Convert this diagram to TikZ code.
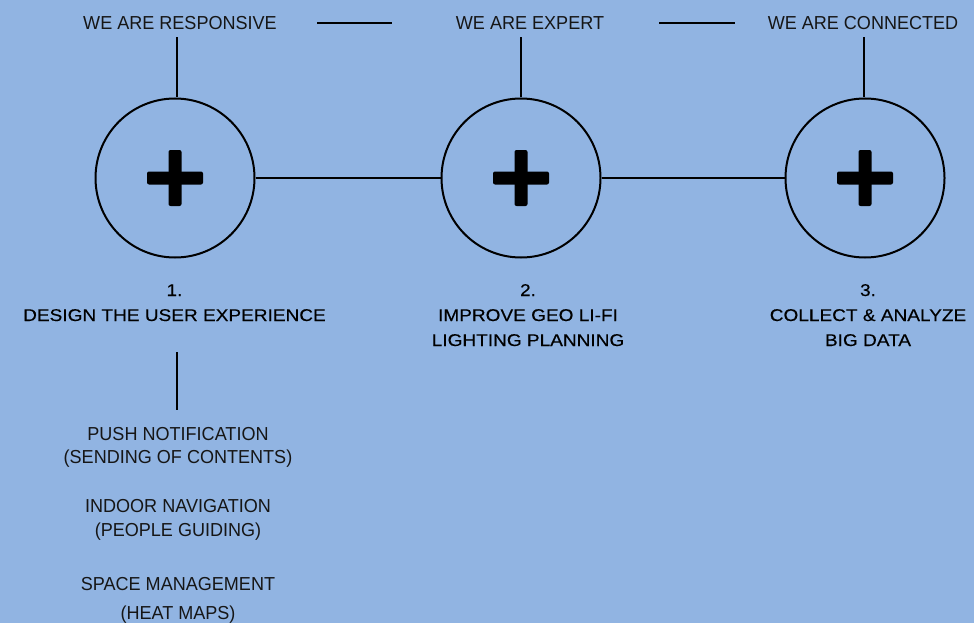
\documentclass[tikz,border=0pt]{standalone}
\usepackage{fontspec}
\setmainfont{Liberation Sans}
\newfontfamily\labelfont{Liberation Sans}[FakeStretch=1.12,FakeBold=0.3]
\newfontfamily\headfont{Liberation Sans}[FakeStretch=0.96]
\definecolor{bg}{RGB}{145,180,226}
\definecolor{ink}{RGB}{22,22,22}
\begin{document}
\begin{tikzpicture}[x=1pt,y=-1pt,
  hub/.style={circle,draw=black,line width=2pt,minimum size=159pt,inner sep=0pt},
  conn/.style={draw=black,line width=2pt},
  head/.style={font=\headfont\fontsize{18.8}{22}\selectfont,text=ink,anchor=base,inner sep=0pt},
  lab/.style={font=\labelfont\fontsize{17}{21}\selectfont,text=black,anchor=base,inner sep=0pt},
  plus/.pic={\fill[black,rounded corners=2pt] (-28,-6.5) rectangle (28,6.5);
             \fill[black,rounded corners=2pt] (-6.5,-28) rectangle (6.5,28);}
]
\fill[bg] (0,0) rectangle (974,623);
\useasboundingbox (0,0) rectangle (974,623);

% headings
\node[head] (t1) at (180,30) {WE ARE RESPONSIVE};
\node[head] (t2) at (530,30) {WE ARE EXPERT};
\node[head] (t3) at (863,30) {WE ARE CONNECTED};

% top dashes
\coordinate (d1a) at (317,23);
\coordinate (d1b) at (392,23);
\coordinate (d2a) at (659,23);
\coordinate (d2b) at (735,23);
\draw[conn] (d1a) -- (d1b);
\draw[conn] (d2a) -- (d2b);

% hubs
\node[hub] (c1) at (175,178) {};
\node[hub] (c2) at (521,178) {};
\node[hub] (c3) at (865,178) {};
\pic at (c1) {plus};
\pic at (c2) {plus};
\pic at (c3) {plus};

\draw[conn] (c1) -- (c2);
\draw[conn] (c2) -- (c3);

\coordinate (v1) at (177,37);
\coordinate (v2) at (521,37);
\coordinate (v3) at (864,37);
\draw[conn] (c1.north -| v1) -- (v1);
\draw[conn] (c2.north) -- (v2);
\draw[conn] (c3.north -| v3) -- (v3);

% step labels
\node[lab] (n1) at (174.5,296) {1.};
\node[lab] (l1) at (174.5,321) {DESIGN THE USER EXPERIENCE};
\node[lab] (n2) at (528,296) {2.};
\node[lab] (l2a) at (528,321) {IMPROVE GEO LI-FI};
\node[lab] (l2b) at (528,346) {LIGHTING PLANNING};
\node[lab] (n3) at (868,296) {3.};
\node[lab] (l3a) at (868,321) {COLLECT \& ANALYZE};
\node[lab] (l3b) at (868,346) {BIG DATA};

% lower stem
\coordinate (s1) at (177,352);
\coordinate (s2) at (177,410);
\draw[conn] (s1) -- (s2);

% list
\node[head] (p1) at (178,440) {PUSH NOTIFICATION};
\node[head] (p2) at (178,463) {(SENDING OF CONTENTS)};
\node[head] (p3) at (178,512) {INDOOR NAVIGATION};
\node[head] (p4) at (178,536) {(PEOPLE GUIDING)};
\node[head] (p5) at (178,590) {SPACE MANAGEMENT};
\node[head] (p6) at (178,619) {(HEAT MAPS)};
\end{tikzpicture}
\end{document}
